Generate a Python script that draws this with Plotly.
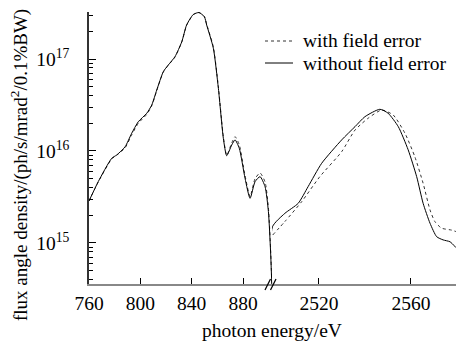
import plotly.graph_objects as go

# ---- data ----
left_energy = [760.0, 767.2, 777.7, 781.6, 788.1, 793.3, 798.4, 805.0, 808.9, 812.8,
               817.9, 821.8, 827.0, 832.3, 836.1, 841.3, 845.7, 849.9, 851.7, 856.9,
               860.8, 864.7, 867.3, 871.2, 873.8, 877.1, 881.6, 885.5, 889.4, 893.3,
               897.2, 899.8, 901.6, 902.6]
left_without = [2.86e15, 4.64e15, 8.33e15, 9.05e15, 1.11e16, 1.56e16, 2.08e16, 2.57e16, 3.16e16, 4.60e16,
                7.28e16, 8.61e16, 1.06e17, 1.54e17, 2.35e17, 3.05e17, 3.2e17, 2.88e17, 2.34e17, 1.31e17,
                4.81e16, 1.37e16, 8.89e15, 1.16e16, 1.32e16, 1.07e16, 5.04e15, 3.06e15, 4.64e15, 5.26e15,
                4.09e15, 2.19e15, 7.41e14, 3.0e14]
left_with = [2.86e15, 4.60e15, 8.20e15, 9.00e15, 1.08e16, 1.50e16, 2.00e16, 2.50e16, 3.10e16, 4.55e16,
             7.20e16, 8.55e16, 1.05e17, 1.53e17, 2.33e17, 3.04e17, 3.2e17, 2.90e17, 2.38e17, 1.35e17,
             5.00e16, 1.42e16, 9.00e15, 1.22e16, 1.43e16, 1.17e16, 5.40e15, 3.20e15, 5.00e15, 5.77e15,
             4.60e15, 2.40e15, 8.00e14, 3.0e14]

right_energy_without = [2499.6, 2499.8, 2505.2, 2511.0, 2515.3, 2521.2, 2529.9, 2535.7, 2540.0, 2546.5,
                        2550.1, 2554.5, 2558.8, 2562.5, 2565.3, 2568.3, 2571.2, 2574.0, 2577.0, 2579.6]
right_without = [3.0e14, 1.50e15, 2.10e15, 2.70e15, 4.10e15, 7.35e15, 1.32e16, 1.84e16, 2.36e16, 2.84e16,
                 2.57e16, 1.84e16, 1.03e16, 5.26e15, 2.70e15, 1.64e15, 1.17e15, 1.08e15, 1.03e15, 8.9e14]

right_energy_with = [2499.9, 2505.2, 2512.5, 2520.4, 2529.9, 2535.7, 2541.4, 2547.3, 2552.3, 2557.4,
                     2561.7, 2565.3, 2568.3, 2570.4, 2573.3, 2577.7, 2579.6]
right_with = [1.22e15, 1.71e15, 2.81e15, 5.26e15, 9.83e15, 1.69e16, 2.27e16, 2.79e16, 2.46e16, 1.56e16,
              8.67e15, 4.46e15, 2.29e15, 1.71e15, 1.45e15, 1.38e15, 1.33e15]

series_names = ["with field error", "without field error"]
left_ticks = [760, 800, 840, 880]
right_ticks = [2520, 2560]
y_major = [1e15, 1e16, 1e17]
y_major_text = ["10<sup>15</sup>", "10<sup>16</sup>", "10<sup>17</sup>"]
y_minor = [m * 10.0 ** e for e in (14, 15, 16, 17) for m in range(2, 10)]

FONT = "Liberation Serif"
FS = 19.5

fig = go.Figure()
dot_style = dict(color="#333333", width=1, dash="dot")
solid_style = dict(color="#000000", width=1)

fig.add_trace(go.Scatter(x=left_energy, y=left_with, mode="lines", name=series_names[0],
                         line=dict(shape="spline", smoothing=0.6, **dot_style),
                         xaxis="x", yaxis="y", showlegend=False))
fig.add_trace(go.Scatter(x=left_energy, y=left_without, mode="lines", name=series_names[1],
                         line=dict(shape="spline", smoothing=0.6, **solid_style),
                         xaxis="x", yaxis="y", showlegend=False))
fig.add_trace(go.Scatter(x=right_energy_with, y=right_with, mode="lines", name=series_names[0],
                         line=dict(shape="spline", smoothing=0.6, **dot_style),
                         xaxis="x2", yaxis="y", showlegend=False))
fig.add_trace(go.Scatter(x=right_energy_without, y=right_without, mode="lines", name=series_names[1],
                         line=dict(shape="spline", smoothing=0.6, **solid_style),
                         xaxis="x2", yaxis="y", showlegend=False))

W, H = 456, 349
L, R, T, B = 89, 0, 12, H - 284
pw = W - L - R
ph = H - T - B
brk = (272 - L) / pw

def px(page_x):
    return (page_x - L) / pw

def py(page_y):
    return (H - B - page_y) / ph

tickfont = dict(family=FONT, size=FS, color="#000")

fig.update_layout(
    width=W, height=H,
    margin=dict(l=L, r=R, t=T, b=B, autoexpand=False),
    paper_bgcolor="white", plot_bgcolor="white",
    font=dict(family=FONT, size=FS, color="#000"),
    showlegend=False,
    xaxis=dict(domain=[0, brk], range=[760, 902.6], tickvals=left_ticks,
               ticks="inside", ticklen=6, tickcolor="#000", tickwidth=1,
               showline=True, linecolor="#888888", linewidth=2, showgrid=False,
               zeroline=False, tickfont=tickfont, ticklabelstandoff=1, anchor="y",
               automargin=False),
    xaxis2=dict(domain=[brk, 1], range=[2499.6, 2579.6], tickvals=right_ticks,
                ticks="inside", ticklen=6, tickcolor="#000", tickwidth=1,
                showline=True, linecolor="#888888", linewidth=2, showgrid=False,
                zeroline=False, tickfont=tickfont, ticklabelstandoff=1, anchor="y",
                automargin=False),
    yaxis=dict(type="log", range=[14.554, 17.511], tickvals=y_major, ticktext=y_major_text,
               ticks="inside", ticklen=7, tickcolor="#000", tickwidth=1,
               minor=dict(tickvals=y_minor, ticks="inside", ticklen=4, tickcolor="#000", tickwidth=1),
               showline=True, linecolor="#333333", linewidth=1.5, showgrid=False,
               zeroline=False, tickfont=tickfont, ticklabelstandoff=14, automargin=False),
)

# break marks "//"
for x0 in (265, 270.5):
    fig.add_shape(type="line", xref="paper", yref="paper",
                  x0=px(x0), y0=py(290), x1=px(x0 + 5.5), y1=py(279),
                  line=dict(color="#000", width=1.2))

# manual legend
for name, style, yy in ((series_names[0], dot_style, 41), (series_names[1], solid_style, 63)):
    fig.add_shape(type="line", xref="paper", yref="paper",
                  x0=px(265), x1=px(293), y0=py(yy), y1=py(yy), line=style)
    fig.add_annotation(text=name, xref="paper", yref="paper", x=px(301), y=py(yy),
                       xanchor="left", yanchor="middle", showarrow=False,
                       font=dict(family=FONT, size=FS, color="#000"))

fig.add_annotation(text="photon energy/eV", xref="paper", yref="paper",
                   x=px(272), y=py(330), xanchor="center", yanchor="middle",
                   showarrow=False, font=dict(family=FONT, size=FS, color="#000"))
fig.add_annotation(text="flux angle density/(ph/s/mrad<sup>2</sup>/0.1%BW)", xref="paper", yref="paper",
                   x=px(19), y=py(165), xanchor="center", yanchor="middle", textangle=-90,
                   showarrow=False, font=dict(family=FONT, size=19, color="#000"))

fig.write_html("out.html", config={"displayModeBar": False},
               post_script="document.body.style.margin='0';document.body.style.overflow='hidden';")
